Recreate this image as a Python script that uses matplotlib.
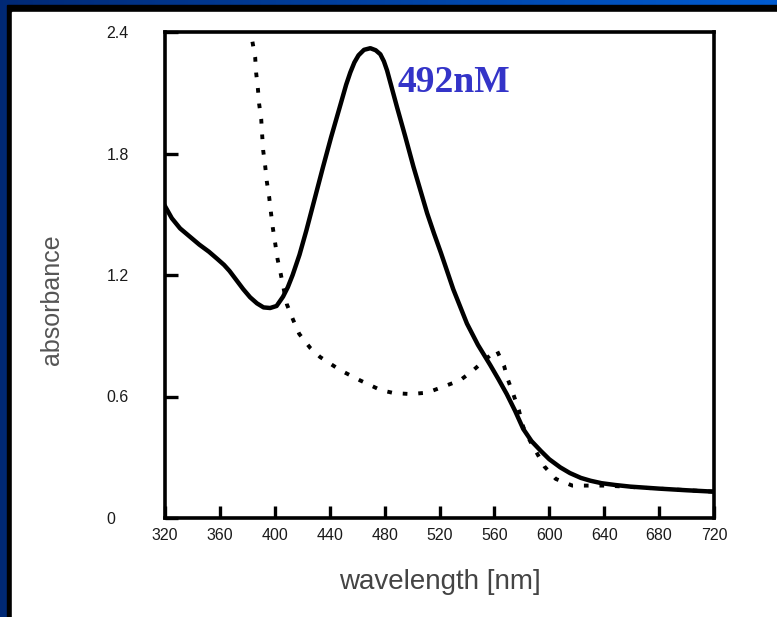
import numpy as np
import matplotlib
matplotlib.use('Agg')
import matplotlib.pyplot as plt
from matplotlib.patches import Rectangle

# solid curve (nm, absorbance)
solid_nm  = [320, 325, 331, 338, 345, 352, 358, 363, 367, 372, 377, 382, 387, 391.8, 396.6, 401.3,
             406, 409.5, 413, 418, 423, 429, 435, 441, 448, 452, 455, 458, 461, 465, 469.6, 473.5,
             476.9, 479.5, 481.8, 485, 489, 495, 501, 506, 511, 516, 521, 530, 540, 548, 557,
             563, 569, 575, 581, 587, 594, 600, 608, 615, 623, 630, 638, 648, 659, 680, 700, 720]
solid_abs = [1.54, 1.48, 1.43, 1.39, 1.35, 1.315, 1.28, 1.25, 1.22, 1.175, 1.13, 1.09, 1.06, 1.04,
             1.037, 1.047, 1.093, 1.14, 1.20, 1.30, 1.42, 1.575, 1.73, 1.88, 2.045, 2.14, 2.20,
             2.25, 2.285, 2.312, 2.32, 2.31, 2.29, 2.255, 2.21, 2.13, 2.03, 1.885, 1.735, 1.62,
             1.505, 1.405, 1.31, 1.13, 0.96, 0.855, 0.755, 0.685, 0.612, 0.53, 0.44, 0.38, 0.33,
             0.29, 0.25, 0.222, 0.198, 0.184, 0.172, 0.163, 0.155, 0.145, 0.137, 0.13]

# dotted curve
dot_nm  = [383.7, 385.7, 386.4, 387.7, 388.6, 390.1, 390.8, 391.5, 393.0, 394.2, 395.9, 397.2,
           398.6, 400.3, 402, 404.4, 406.5, 408.8, 413.2, 417.8, 425.8, 433, 447.7, 462, 477,
           486.6, 499, 511, 523, 535, 544, 553, 561.6, 567, 570, 574, 577.8, 581, 586, 591,
           596.6, 604.7, 616.8, 628.8, 642, 680, 720]
dot_abs = [2.352, 2.275, 2.199, 2.119, 2.044, 1.970, 1.891, 1.817, 1.738, 1.661, 1.585, 1.508,
           1.431, 1.356, 1.279, 1.203, 1.131, 1.055, 0.981, 0.909, 0.84, 0.795, 0.73, 0.68, 0.632,
           0.617, 0.612, 0.619, 0.649, 0.68, 0.726, 0.78, 0.83, 0.752, 0.68, 0.607, 0.533, 0.45,
           0.38, 0.32, 0.253, 0.193, 0.16, 0.16, 0.16, 0.145, 0.13]

xticks = [320, 360, 400, 440, 480, 520, 560, 600, 640, 680, 720]
yticks = [0, 0.6, 1.2, 1.8, 2.4]
ytick_labels = ['0', '0.6', '1.2', '1.8', '2.4']

W, H = 777, 617
fig = plt.figure(figsize=(W / 100, H / 100), dpi=100)

# slide-style background: blue gradient, black shadow, white panel
bg = fig.add_axes([0, 0, 1, 1], zorder=-5)
grad = np.linspace(0, 1, 256)[None, :, None]
c0 = np.array([0.0, 0.16, 0.46])
c1 = np.array([0.0, 0.36, 0.82])
img = c0 + (c1 - c0) * grad
bg.imshow(img, extent=[0, 1, 0, 1], aspect='auto', transform=bg.transAxes)
bg.add_patch(Rectangle((7 / W, 0), 1, 1 - 5 / H, transform=bg.transAxes, color='black'))
bg.add_patch(Rectangle((12 / W, 0), 1, 1 - 12 / H, transform=bg.transAxes, color='white'))
bg.set_xlim(0, 1)
bg.set_ylim(0, 1)
bg.axis('off')

ax = fig.add_axes([165 / W, 1 - 518 / H, (714 - 165) / W, (518 - 32) / H])
ax.set_facecolor('none')

ax.plot(dot_nm, dot_abs, color='black', lw=2.8, linestyle=(0, (1.2, 2.8)),
        dash_capstyle='butt', zorder=2)
ax.plot(solid_nm, solid_abs, color='black', lw=3.2, solid_joinstyle='round', zorder=3)

ax.set_xlim(320, 720)
ax.set_ylim(0, 2.4)
ax.set_xticks(xticks)
ax.set_yticks(yticks)
ax.set_yticklabels(ytick_labels)

for s in ax.spines.values():
    s.set_linewidth(2.6)

ax.tick_params(axis='both', direction='in', length=9, width=2.4, labelsize=11.5,
               colors='black', labelcolor='#1a1a1a')
ax.tick_params(axis='x', pad=7)
ax.tick_params(axis='y', pad=42)
for lab in ax.get_yticklabels():
    lab.set_horizontalalignment('left')
    lab.set_fontfamily('Liberation Sans')
for lab in ax.get_xticklabels():
    lab.set_fontfamily('Liberation Sans')

fig.text(440 / W, 1 - 582 / H, 'wavelength [nm]', ha='center', va='center',
         fontsize=20, color='#444444', family='Liberation Sans')
fig.text(52 / W, 1 - 300 / H, 'absorbance', ha='center', va='center', rotation=90,
         fontsize=18, color='#555555', family='Liberation Sans')

ax.text((397 - 165) / 549, (518 - 92) / 486, '492nM', transform=ax.transAxes,
        ha='left', va='baseline', fontsize=27, fontweight='bold',
        family='Liberation Serif', color='#3434c8')

fig.savefig('out.png', dpi=100)
